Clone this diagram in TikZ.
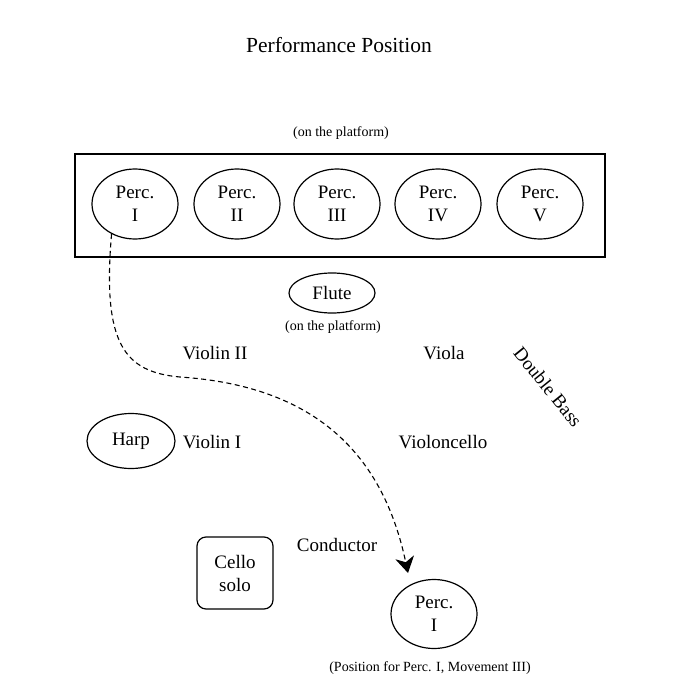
\documentclass[tikz,border=0pt]{standalone}
\usepackage{fontspec}
\setmainfont{Liberation Serif}
\usetikzlibrary{shapes.geometric,arrows.meta}
\begin{document}
\begin{tikzpicture}[x=1pt,y=-1pt,
  lbl/.style={font=\fontsize{19}{23}\selectfont, inner sep=0pt},
  smalllbl/.style={font=\fontsize{14}{17}\selectfont, inner sep=0pt},
  oval/.style={draw, ellipse, line width=1.2pt, inner sep=0pt, align=center,
    font=\fontsize{19}{23}\selectfont},
  player/.style={oval, minimum width=86pt, minimum height=70pt},
  move/.style={line width=1.1pt, dash pattern=on 5pt off 3.5pt,
    -{Stealth[length=16pt,width=19pt,inset=5pt]}}
]
\useasboundingbox (0,0) rectangle (694,700);

% title
\node[font=\fontsize{21.5}{26}\selectfont, inner sep=0pt] (title) at (339,45) {Performance Position};

% percussion platform
\node[smalllbl] (platformnote) at (341,133) {(on the platform)};
\node[draw, line width=1.2pt, minimum width=530pt, minimum height=103pt, inner sep=0pt] (platform) at (340,205.5) {};
\node[player] (p1) at (135,204) {Perc.\\I};
\node[player] (p2) at (237,204) {Perc.\\II};
\node[player] (p3) at (337,204) {Perc.\\III};
\node[player] (p4) at (438,204) {Perc.\\IV};
\node[player] (p5) at (540,204) {Perc.\\V};

% flute
\node[oval, minimum width=86pt, minimum height=40pt] (flute) at (332,293) {Flute};
\node[smalllbl] (flutenote) at (333,327) {(on the platform)};

% strings and others
\node[lbl] (vln2) at (215,353) {Violin II};
\node[lbl] (viola) at (444,353) {Viola};
\node[lbl, rotate=-51] (bass) at (548,387) {Double Bass};
\node[oval, minimum width=88pt, minimum height=55pt] (harp) at (131,441) {Harp};
\node[lbl] (vln1) at (212,442) {Violin I};
\node[lbl] (vc) at (443,442) {Violoncello};
\node[lbl] (cond) at (337,545) {Conductor};
\node[draw, rounded corners=9pt, line width=1.2pt, minimum width=76pt, minimum height=72pt,
  inner sep=0pt, align=center, font=\fontsize{19}{23}\selectfont] (cellosolo) at (235,573) {Cello\\solo};

% percussion I, movement III
\node[player, minimum height=69pt] (p1b) at (434,614) {Perc.\\I};
\node[smalllbl] (p1bnote) at (430,668) {(Position for Perc. I, Movement III)};

% move of Perc. I
\coordinate (mvtip) at (408,573);
\coordinate (mvmid) at (180,377);
\draw[move] (p1.232) .. controls (102,345) and (125,372) .. (mvmid)
  .. controls (300,385) and (380,440) .. (mvtip);
\end{tikzpicture}
\end{document}
